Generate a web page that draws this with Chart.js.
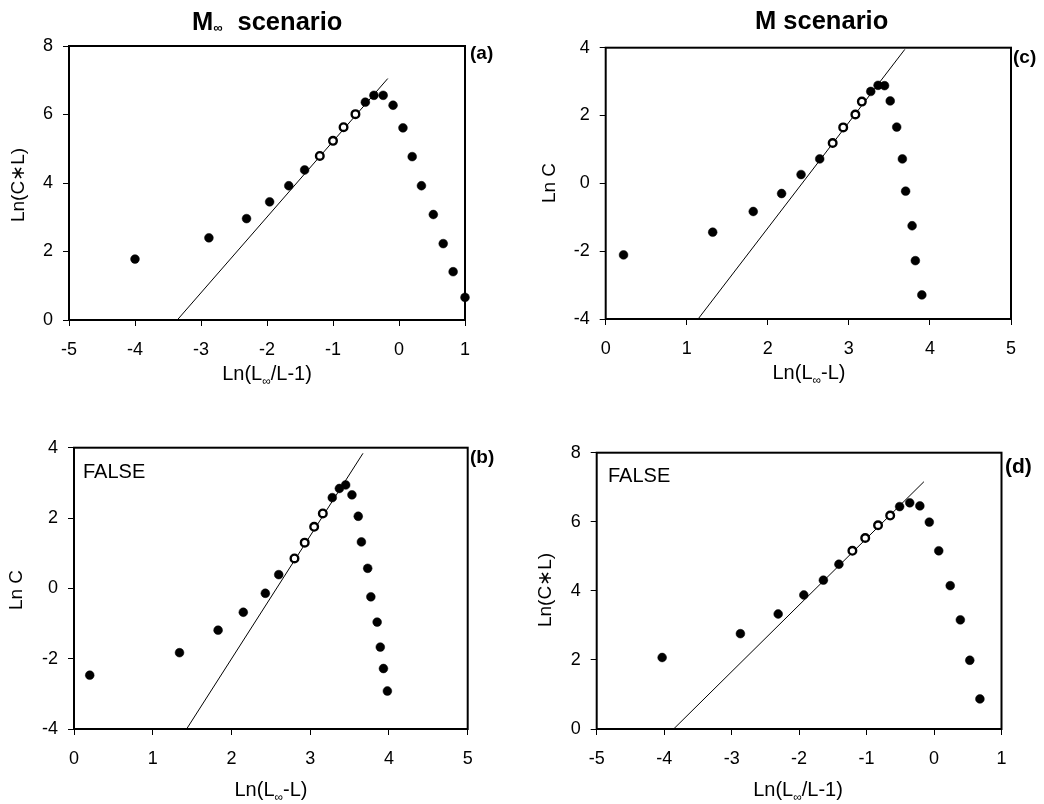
<!DOCTYPE html>
<html>
<head>
<meta charset="utf-8">
<script src="https://cdn.jsdelivr.net/npm/chart.js@4.4.0/dist/chart.umd.min.js"></script>
<style>
  html, body { margin: 0; padding: 0; background: #fff; }
  #wrap { position: relative; width: 1044px; height: 804px; background: #fff; }
  canvas { position: absolute; }
</style>
</head>
<body>
<div id="wrap">
  <canvas id="cA" width="520" height="400" style="left:0px;top:0px"></canvas>
  <canvas id="cC" width="524" height="400" style="left:520px;top:0px"></canvas>
  <canvas id="cB" width="520" height="404" style="left:0px;top:400px"></canvas>
  <canvas id="cD" width="524" height="404" style="left:520px;top:400px"></canvas>
</div>
<script>
// ---------- DATA ----------
// Panel (a): M-infinity scenario, Ln(C*L) vs Ln(Linf/L-1)
const aFilledX = [-4.00, -2.88, -2.31, -1.96, -1.67, -1.43, -0.51, -0.38, -0.24, -0.09, 0.06, 0.20, 0.34, 0.52, 0.67, 0.82, 1.00];
const aFilledY = [1.78, 2.40, 2.96, 3.45, 3.92, 4.38, 6.36, 6.56, 6.56, 6.27, 5.61, 4.77, 3.92, 3.08, 2.23, 1.41, 0.66];
const aOpenX = [-1.20, -1.00, -0.84, -0.66];
const aOpenY = [4.79, 5.23, 5.63, 6.01];
const aFitX = [-3.36, -0.17];
const aFitY = [0.00, 7.05];

// Panel (c): M scenario, Ln C vs Ln(Linf-L)
const cFilledX = [0.22, 1.32, 1.82, 2.17, 2.41, 2.64, 3.27, 3.36, 3.44, 3.51, 3.59, 3.66, 3.70, 3.78, 3.82, 3.90];
const cFilledY = [-2.11, -1.44, -0.83, -0.30, 0.26, 0.72, 2.71, 2.89, 2.88, 2.43, 1.66, 0.72, -0.23, -1.25, -2.28, -3.29];
const cOpenX = [2.80, 2.93, 3.08, 3.16];
const cOpenY = [1.19, 1.65, 2.03, 2.41];
const cFitX = [1.14, 3.69];
const cFitY = [-4.00, 3.95];

// Panel (b): FALSE, Ln C vs Ln(Linf-L)
const bFilledX = [0.20, 1.34, 1.83, 2.15, 2.43, 2.60, 3.28, 3.37, 3.45, 3.53, 3.61, 3.65, 3.73, 3.77, 3.85, 3.89, 3.93, 3.98];
const bFilledY = [-2.47, -1.83, -1.19, -0.68, -0.14, 0.39, 2.58, 2.84, 2.94, 2.66, 2.05, 1.32, 0.57, -0.24, -0.96, -1.67, -2.28, -2.92];
const bOpenX = [2.80, 2.93, 3.05, 3.16];
const bOpenY = [0.85, 1.30, 1.75, 2.13];
const bFitX = [1.43, 3.67];
const bFitY = [-4.00, 3.84];

// Panel (d): FALSE, Ln(C*L) vs Ln(Linf/L-1)
const dFilledX = [-4.03, -2.87, -2.31, -1.93, -1.64, -1.41, -0.51, -0.36, -0.21, -0.07, 0.07, 0.24, 0.39, 0.53, 0.68];
const dFilledY = [2.07, 2.76, 3.33, 3.88, 4.31, 4.77, 6.44, 6.55, 6.46, 5.99, 5.16, 4.15, 3.16, 1.99, 0.87];
const dOpenX = [-1.21, -1.02, -0.83, -0.65];
const dOpenY = [5.16, 5.53, 5.90, 6.18];
const dFitX = [-3.86, -0.15];
const dFitY = [0.00, 7.16];

// Axis tick ranges
const xTicksLogit = { min: -5, max: 1, step: 1 };
const xTicksLn = { min: 0, max: 5, step: 1 };
const yTicksCL = { min: 0, max: 8, step: 2 };
const yTicksC = { min: -4, max: 4, step: 2 };

// ---------- RENDERING ----------
const FONT = '"Liberation Sans", Arial, Helvetica, sans-serif';

function pts(xs, ys) { return xs.map((x, i) => ({ x: x, y: ys[i] })); }

function drawRich(ctx, parts, x, y, rot, align) {
  ctx.save();
  ctx.translate(x, y);
  if (rot) ctx.rotate(rot);
  let total = 0;
  const widths = parts.map(p => {
    ctx.font = (p.bold ? 'bold ' : '') + p.size + 'px ' + FONT;
    const w = ctx.measureText(p.t).width + (p.dx || 0);
    total += w;
    return w;
  });
  let cx = align === 'center' ? -total / 2 : 0;
  ctx.fillStyle = '#000';
  ctx.textBaseline = 'alphabetic';
  ctx.textAlign = 'left';
  parts.forEach((p, i) => {
    ctx.font = (p.bold ? 'bold ' : '') + p.size + 'px ' + FONT;
    ctx.fillText(p.t, cx + (p.dx || 0), p.dy || 0);
    cx += widths[i];
  });
  ctx.restore();
}

const decor = {
  id: 'decor',
  afterDraw(chart, args, opts) {
    const ctx = chart.ctx;
    const a = chart.chartArea;
    ctx.save();
    ctx.strokeStyle = '#000';
    ctx.lineWidth = 2;
    ctx.strokeRect(a.left, a.top, a.right - a.left, a.bottom - a.top);
    ctx.restore();
    (opts.texts || []).forEach(t => drawRich(ctx, t.parts, t.x, t.y, t.rot || 0, t.align || 'left'));
  }
};

function makeChart(id, cfg) {
  const canvas = document.getElementById(id);
  const W = canvas.width, H = canvas.height;
  const datasets = [
    {
      label: 'fit', type: 'line', data: pts(cfg.fitX, cfg.fitY),
      borderColor: '#000', borderWidth: 1, pointRadius: 0, fill: false, tension: 0, order: 3
    },
    {
      label: 'filled', data: pts(cfg.fx, cfg.fy),
      pointStyle: 'circle', pointRadius: 4.4, backgroundColor: '#000', borderColor: '#000', borderWidth: 0.5,
      clip: false, order: 2
    },
    {
      label: 'open', data: pts(cfg.ox, cfg.oy),
      pointStyle: 'circle', pointRadius: 3.8, backgroundColor: '#fff', borderColor: '#000', borderWidth: 2.4,
      clip: false, order: 1
    }
  ];
  const tickFont = { family: FONT, size: 18 };
  return new Chart(canvas, {
    type: 'scatter',
    data: { datasets: datasets },
    plugins: [decor],
    options: {
      responsive: false,
      animation: false,
      devicePixelRatio: 1,
      events: [],
      layout: { padding: { left: 0, top: cfg.T, right: W - cfg.R, bottom: 0 } },
      plugins: {
        legend: { display: false },
        tooltip: { enabled: false },
        title: { display: false },
        decor: { texts: cfg.texts }
      },
      scales: {
        x: {
          type: 'linear', position: 'bottom',
          min: cfg.xt.min, max: cfg.xt.max,
          ticks: { stepSize: cfg.xt.step, font: tickFont, color: '#000', padding: 13, maxRotation: 0, autoSkip: false },
          grid: { drawOnChartArea: false, drawTicks: true, tickLength: 6, color: '#000', lineWidth: 1 },
          border: { display: false },
          afterFit: s => { s.height = H - cfg.B; }
        },
        y: {
          type: 'linear', position: 'left',
          min: cfg.yt.min, max: cfg.yt.max,
          ticks: { stepSize: cfg.yt.step, font: tickFont, color: '#000', padding: 10, autoSkip: false },
          grid: { drawOnChartArea: false, drawTicks: true, tickLength: 6, color: '#000', lineWidth: 1 },
          border: { display: false },
          afterFit: s => { s.width = cfg.L; }
        }
      }
    }
  });
}

const subInf = { t: '\u221E', size: 12, dy: 5 };

// (a)
makeChart('cA', {
  L: 69, R: 465, T: 46, B: 320,
  xt: xTicksLogit, yt: yTicksCL,
  fx: aFilledX, fy: aFilledY, ox: aOpenX, oy: aOpenY, fitX: aFitX, fitY: aFitY,
  texts: [
    { parts: [{ t: 'M', size: 25.5, bold: true }, { t: '\u221E', size: 13, bold: true, dy: 2 }, { t: 'scenario', size: 25.5, bold: true, dx: 15 }], x: 192, y: 29.5 },
    { parts: [{ t: 'Ln(L', size: 20 }, subInf, { t: '/L-1)', size: 20 }], x: 267, y: 380, align: 'center' },
    { parts: [{ t: 'Ln(C\u2217L)', size: 19 }], x: 24, y: 185, rot: -Math.PI / 2, align: 'center' },
    { parts: [{ t: '(a)', size: 19, bold: true }], x: 470, y: 59 }
  ]
});

// (c)
makeChart('cC', {
  L: 85.7, R: 491, T: 47.7, B: 319,
  xt: xTicksLn, yt: yTicksC,
  fx: cFilledX, fy: cFilledY, ox: cOpenX, oy: cOpenY, fitX: cFitX, fitY: cFitY,
  texts: [
    { parts: [{ t: 'M scenario', size: 25.5, bold: true }], x: 235, y: 28.5 },
    { parts: [{ t: 'Ln(L', size: 20 }, subInf, { t: '-L)', size: 20 }], x: 289, y: 379, align: 'center' },
    { parts: [{ t: 'Ln C', size: 19 }], x: 35, y: 183, rot: -Math.PI / 2, align: 'center' },
    { parts: [{ t: '(c)', size: 19, bold: true }], x: 493, y: 63 }
  ]
});

// (b)
makeChart('cB', {
  L: 74, R: 467.7, T: 47.7, B: 329,
  xt: xTicksLn, yt: yTicksC,
  fx: bFilledX, fy: bFilledY, ox: bOpenX, oy: bOpenY, fitX: bFitX, fitY: bFitY,
  texts: [
    { parts: [{ t: 'Ln(L', size: 20 }, subInf, { t: '-L)', size: 20 }], x: 271, y: 396, align: 'center' },
    { parts: [{ t: 'Ln C', size: 19 }], x: 22, y: 190, rot: -Math.PI / 2, align: 'center' },
    { parts: [{ t: '(b)', size: 19, bold: true }], x: 470, y: 63 },
    { parts: [{ t: 'FALSE', size: 20 }], x: 83, y: 78 }
  ]
});

// (d)
makeChart('cD', {
  L: 76.7, R: 481.5, T: 52.7, B: 329,
  xt: xTicksLogit, yt: yTicksCL,
  fx: dFilledX, fy: dFilledY, ox: dOpenX, oy: dOpenY, fitX: dFitX, fitY: dFitY,
  texts: [
    { parts: [{ t: 'Ln(L', size: 20 }, subInf, { t: '/L-1)', size: 20 }], x: 278, y: 396, align: 'center' },
    { parts: [{ t: 'Ln(C\u2217L)', size: 19 }], x: 31, y: 190, rot: -Math.PI / 2, align: 'center' },
    { parts: [{ t: '(d)', size: 21, bold: true }], x: 485, y: 73 },
    { parts: [{ t: 'FALSE', size: 20 }], x: 88, y: 82 }
  ]
});
</script>
</body>
</html>
